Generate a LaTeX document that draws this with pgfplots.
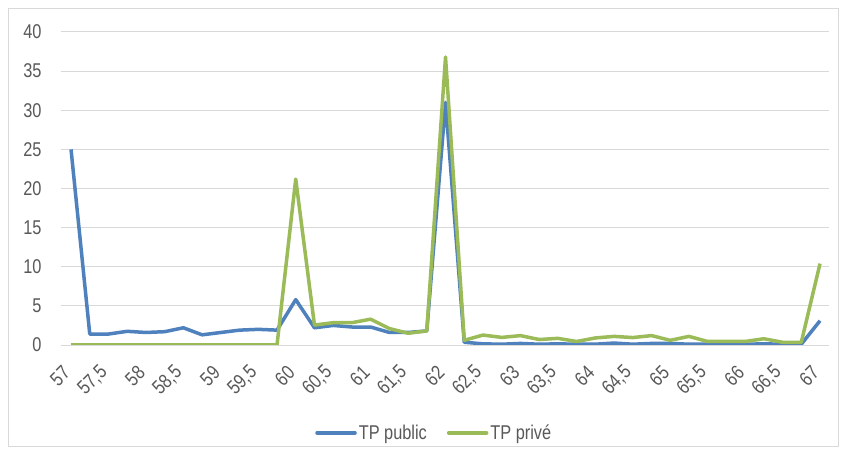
\documentclass[border=0pt]{standalone}
\usepackage{pgfplots}
\pgfplotsset{compat=1.18}
\usepackage{fontspec}
\setmainfont{Liberation Sans}[FakeStretch=0.82]
\definecolor{pubblue}{HTML}{4F81BD}
\definecolor{privgreen}{HTML}{9BBB59}
\definecolor{gridgray}{HTML}{D9D9D9}
\definecolor{labelgray}{HTML}{595959}
\definecolor{framegray}{HTML}{D9D9D9}

\pgfplotstableread{
x     y
57    25
57.25 1.4
57.5  1.4
57.75 1.75
58    1.6
58.25 1.7
58.5  2.2
58.75 1.3
59    1.6
59.25 1.9
59.5  2.0
59.75 1.9
60    5.8
60.25 2.2
60.5  2.5
60.75 2.3
61    2.3
61.25 1.6
61.5  1.6
61.75 1.8
62    31
62.25 0.35
62.5  0.15
62.75 0.1
63    0.2
63.25 0.1
63.5  0.15
63.75 0.1
64    0.1
64.25 0.25
64.5  0.1
64.75 0.2
65    0.2
65.25 0.1
65.5  0.1
65.75 0.1
66    0.1
66.25 0.15
66.5  0.1
66.75 0.1
67    3.1
}\tppublic

\pgfplotstableread{
x     y
57    0
57.25 0
57.5  0
57.75 0
58    0
58.25 0
58.5  0
58.75 0
59    0
59.25 0
59.5  0
59.75 0
60    21.2
60.25 2.55
60.5  2.85
60.75 2.85
61    3.3
61.25 2.1
61.5  1.5
61.75 1.8
62    36.8
62.25 0.6
62.5  1.27
62.75 0.97
63    1.2
63.25 0.7
63.5  0.85
63.75 0.45
64    0.9
64.25 1.1
64.5  0.95
64.75 1.2
65    0.6
65.25 1.1
65.5  0.45
65.75 0.45
66    0.45
66.25 0.8
66.5  0.35
66.75 0.35
67    10.4
}\tpprive

\begin{document}
\begin{tikzpicture}
\useasboundingbox (0,0) rectangle (845bp,455bp);
\fill[white] (0,0) rectangle (845bp,455bp);
\draw[framegray, line width=1bp] (8bp,8bp) rectangle (838bp,446bp);
\begin{axis}[
  at={(61bp,110bp)}, anchor=south west,
  scale only axis, width=768bp, height=313bp,
  xmin=56.866, xmax=67.12, ymin=0, ymax=40,
  ytick={0,5,...,40},
  xtick={57,57.5,58,58.5,59,59.5,60,60.5,61,61.5,62,62.5,63,63.5,64,64.5,65,65.5,66,66.5,67},
  xticklabels={57,{57,5},58,{58,5},59,{59,5},60,{60,5},61,{61,5},62,{62,5},63,{63,5},64,{64,5},65,{65,5},66,{66,5},67},
  /pgf/number format/assume math mode=true,
  axis line style={draw=none},
  major tick length=0pt,
  ymajorgrids,
  grid style={gridgray, line width=1bp},
  tick label style={text=labelgray, font=\fontsize{20}{20}\selectfont},
  yticklabel style={anchor=east, xshift=-16bp},
  xticklabel style={xshift=-2bp, yshift=-22bp, rotate=45, anchor=east},
  legend columns=2,
  legend style={at={(rel axis cs:0.486,-0.2805)}, anchor=center, draw=none, fill=none,
    font=\fontsize{20}{20}\selectfont, text=labelgray,
    /tikz/every even column/.append style={column sep=18bp}},
  legend image code/.code={\draw[#1, line width=3.5bp, line cap=round] (0bp,0bp) -- (38bp,0bp);},
  legend cell align=left,
]
\addplot[pubblue, line width=3.5bp, line join=round] table[x=x, y=y] {\tppublic};
\addlegendentry{TP public}
\addplot[privgreen, line width=3.5bp, line join=round] table[x=x, y=y] {\tpprive};
\addlegendentry{TP privé}
\end{axis}
\end{tikzpicture}
\end{document}
